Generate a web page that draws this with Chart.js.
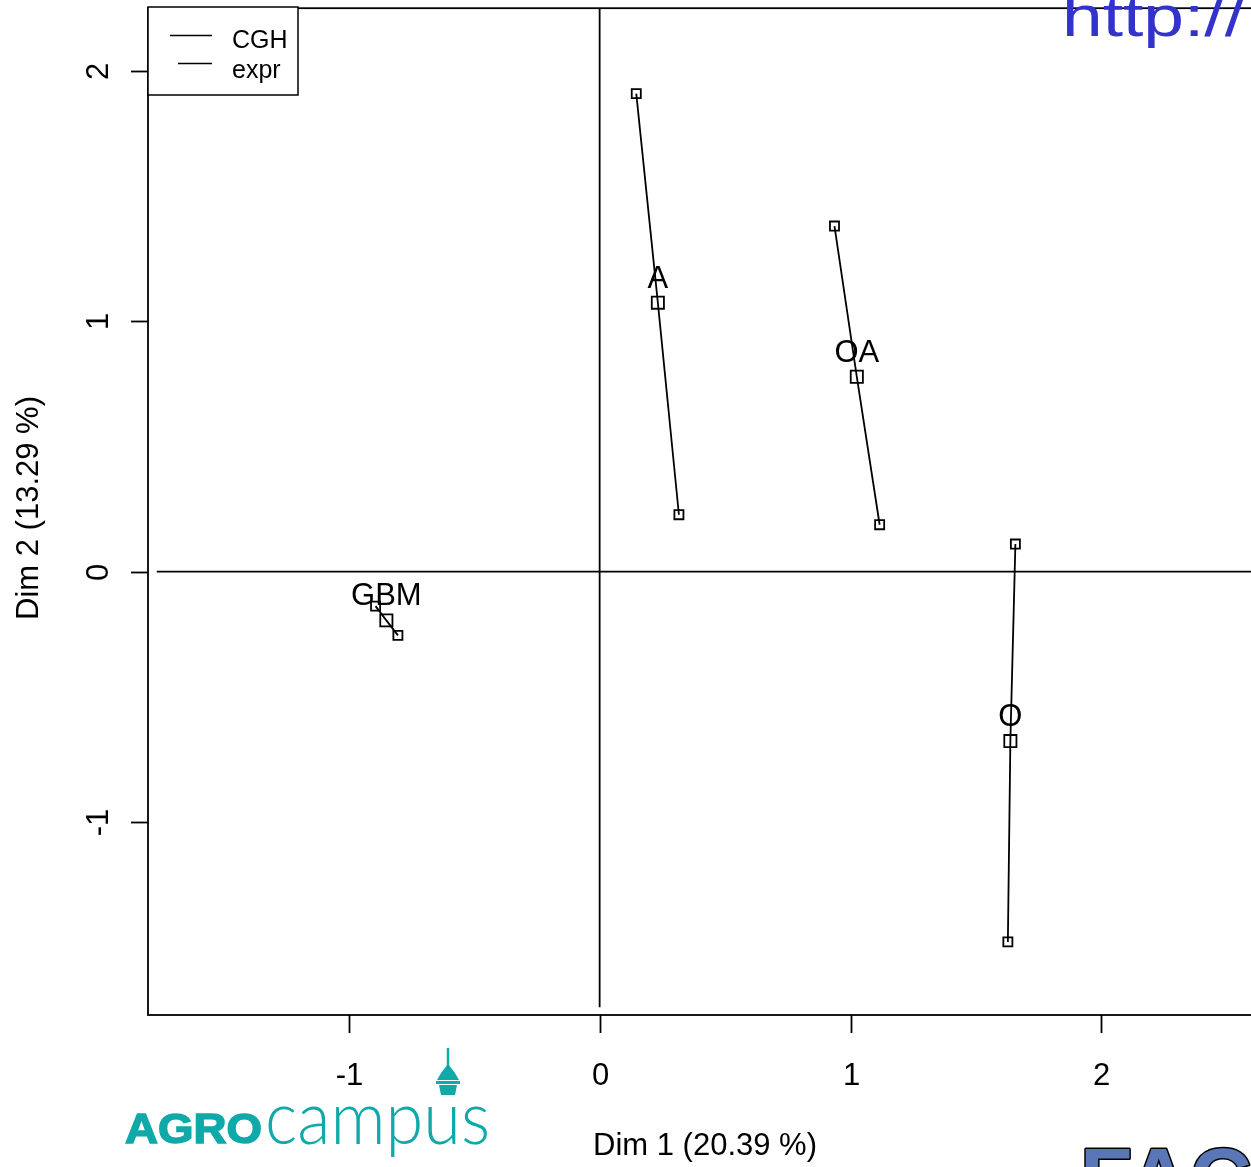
<!DOCTYPE html>
<html>
<head>
<meta charset="utf-8">
<script src="https://cdn.jsdelivr.net/npm/chart.js@4.4.1/dist/chart.umd.min.js"></script>
<style>
  html, body { margin: 0; padding: 0; overflow: hidden; background: #fff; }
  #wrap { position: relative; width: 1251px; height: 1167px; overflow: hidden; }
  #c { position: absolute; left: 0; top: 0; }
</style>
</head>
<body>
<div id="wrap"><canvas id="c" width="1300" height="1167"></canvas></div>
<script>
// groups and their mean point
const groups = ["A", "OA", "O", "GBM"];
const centerX = [0.232, 1.025, 1.637, -0.850];
const centerY = [1.074, 0.778, -0.677, -0.195];
// partial points for each group of variables
const cghX = [0.146, 0.936, 1.657, -0.893];
const cghY = [1.909, 1.380, 0.110, -0.138];
const exprX = [0.316, 1.116, 1.627, -0.804];
const exprY = [0.227, 0.187, -1.479, -0.255];

const xTicks = [-1, 0, 1, 2];
const yTicks = [-1, 0, 1, 2];
const xTitle = "Dim 1 (20.39 %)";
const yTitle = "Dim 2 (13.29 %)";
const legendLabels = ["CGH", "expr"];

const FONT = '"Liberation Sans", Arial, sans-serif';

// one line per group: CGH partial -> mean -> expr partial
const groupSets = groups.map((g, i) => ({
  label: g,
  data: [
    { x: cghX[i], y: cghY[i] },
    { x: centerX[i], y: centerY[i] },
    { x: exprX[i], y: exprY[i] },
  ],
  showLine: true,
  borderColor: "#000",
  borderWidth: 1.8,
  tension: 0,
  pointStyle: "rect",
  pointRadius: [6.4, 8.6, 6.4],
  pointBorderWidth: 1.8,
  pointBorderColor: "#000",
  pointBackgroundColor: "rgba(0,0,0,0)",
}));

// axes through the origin
const refLines = [
  { data: [{ x: -1.765, y: 0 }, { x: 2.7, y: 0 }] },
  { data: [{ x: 0, y: 2.3 }, { x: 0, y: -1.74 }] },
].map((d) => ({
  ...d,
  showLine: true,
  borderColor: "#000",
  borderWidth: 1.8,
  pointRadius: 0,
}));

const overlay = {
  id: "overlay",
  afterDraw(chart) {
    const ctx = chart.ctx;
    const a = chart.chartArea;
    const xs = chart.scales.x;
    const ys = chart.scales.y;
    ctx.save();
    ctx.strokeStyle = "#000";
    ctx.fillStyle = "#000";
    ctx.lineWidth = 1.8;

    // plot box
    ctx.strokeRect(a.left, a.top, a.right - a.left, a.bottom - a.top);

    // x ticks and labels
    ctx.font = "31px " + FONT;
    ctx.textAlign = "center";
    ctx.textBaseline = "middle";
    xTicks.forEach((t) => {
      const px = Math.round(xs.getPixelForValue(t)) + 0.5;
      ctx.beginPath();
      ctx.moveTo(px, a.bottom);
      ctx.lineTo(px, a.bottom + 18);
      ctx.stroke();
      ctx.fillText(String(t), px, 1076);
    });

    // y ticks and rotated labels
    yTicks.forEach((t) => {
      const py = Math.round(ys.getPixelForValue(t)) + 0.5;
      ctx.beginPath();
      ctx.moveTo(a.left, py);
      ctx.lineTo(a.left - 17, py);
      ctx.stroke();
      ctx.save();
      ctx.translate(99, py);
      ctx.rotate(-Math.PI / 2);
      ctx.fillText(String(t), 0, 0);
      ctx.restore();
    });

    // axis titles
    ctx.fillText(xTitle, 705, 1146);
    ctx.save();
    ctx.translate(29, 508);
    ctx.rotate(-Math.PI / 2);
    ctx.fillText(yTitle, 0, 0);
    ctx.restore();

    // group labels above the mean points
    ctx.textBaseline = "alphabetic";
    groups.forEach((g, i) => {
      const px = xs.getPixelForValue(centerX[i]);
      const py = ys.getPixelForValue(centerY[i]);
      ctx.fillText(g, px, py - 15);
    });

    // legend
    ctx.lineWidth = 1.5;
    ctx.fillStyle = "#fff";
    ctx.fillRect(148, 7, 150, 88);
    ctx.strokeRect(148, 7, 150, 88);
    ctx.beginPath();
    ctx.moveTo(170, 35.5); ctx.lineTo(212, 35.5);
    ctx.moveTo(178, 63.5); ctx.lineTo(212, 63.5);
    ctx.stroke();
    ctx.fillStyle = "#000";
    ctx.font = "25px " + FONT;
    ctx.textAlign = "left";
    ctx.fillText(legendLabels[0], 232, 48);
    ctx.fillText(legendLabels[1], 232, 78);

    // url in the corner
    ctx.fillStyle = "rgb(51,51,204)";
    ctx.font = "58px " + FONT;
    let w = ctx.measureText("http://").width;
    ctx.save();
    ctx.translate(1062, 36);
    ctx.scale(183 / w, 1);
    ctx.fillText("http://", 0, 0);
    ctx.restore();

    // AGROcampus logo
    const teal = "#10a9a9";
    ctx.fillStyle = teal;
    ctx.font = "900 42px " + FONT;
    w = ctx.measureText("AGRO").width;
    ctx.save();
    ctx.translate(125, 1143);
    ctx.scale(137 / w, 1);
    ctx.fillText("AGRO", 0, 0);
    ctx.strokeStyle = teal;
    ctx.lineWidth = 1.5;
    ctx.strokeText("AGRO", 0, 0);
    ctx.restore();
    ctx.font = '300 74px Lato, "Open Sans", sans-serif';
    w = ctx.measureText("campus").width;
    ctx.save();
    ctx.translate(265, 1144);
    ctx.scale(225 / w, 1);
    ctx.fillText("campus", 0, 0);
    ctx.restore();
    // small tower
    ctx.strokeStyle = teal;
    ctx.lineWidth = 2.5;
    ctx.beginPath();
    ctx.moveTo(448, 1048); ctx.lineTo(448, 1068);
    ctx.stroke();
    ctx.beginPath();
    ctx.moveTo(448, 1064);
    ctx.lineTo(455, 1073); ctx.lineTo(459, 1080); ctx.lineTo(437, 1080);
    ctx.lineTo(441, 1073); ctx.closePath();
    ctx.fill();
    ctx.fillRect(436, 1081, 24, 3);
    ctx.beginPath();
    ctx.moveTo(439, 1085); ctx.lineTo(457, 1085); ctx.lineTo(455, 1095); ctx.lineTo(441, 1095);
    ctx.closePath();
    ctx.fill();

    // partial logo at bottom right
    ctx.font = "bold 86px " + FONT;
    ctx.fillStyle = "#5a76b6";
    ctx.strokeStyle = "#000";
    ctx.lineWidth = 3;
    ctx.lineJoin = "round";
    ctx.strokeText("FAC", 1080, 1208);
    ctx.fillText("FAC", 1080, 1208);

    ctx.restore();
  },
};

new Chart(document.getElementById("c"), {
  type: "scatter",
  data: { datasets: [...refLines, ...groupSets] },
  options: {
    responsive: false,
    animation: false,
    devicePixelRatio: 1,
    layout: { padding: { left: 148, top: 7, right: 48, bottom: 152 } },
    scales: {
      x: { type: "linear", min: -1.8, max: 2.6, display: false },
      y: { type: "linear", min: -1.771, max: 2.25, display: false },
    },
    plugins: { legend: { display: false }, tooltip: { enabled: false } },
  },
  plugins: [overlay],
});
</script>
</body>
</html>
